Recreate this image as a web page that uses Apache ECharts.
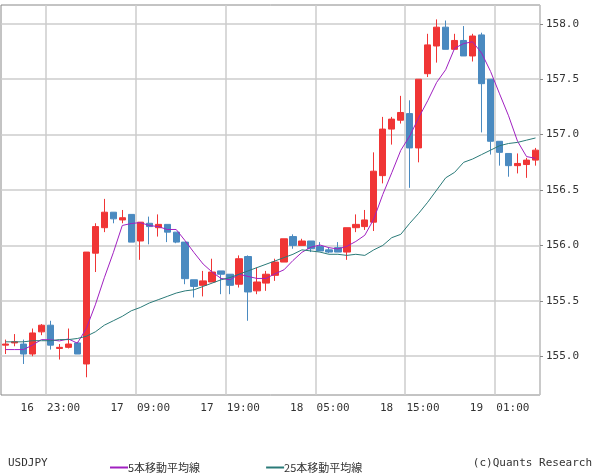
<!DOCTYPE html>
<html><head><meta charset="utf-8">
<script src="https://cdn.jsdelivr.net/npm/echarts@6/dist/echarts.min.js"></script>
<style>html,body{margin:0;padding:0;background:#fff}#c{width:600px;height:475px}</style>
</head><body><div id="c"></div>
<script>
const categories = [
"16 18:00","16 19:00","16 20:00","16 21:00","16 22:00","16 23:00",
"17 00:00","17 01:00","17 02:00","17 03:00","17 04:00","17 05:00","17 06:00","17 07:00","17 08:00","17 09:00","17 10:00","17 11:00","17 12:00","17 13:00","17 14:00","17 15:00","17 16:00","17 17:00","17 18:00","17 19:00","17 20:00","17 21:00","17 22:00","17 23:00",
"18 00:00","18 01:00","18 02:00","18 03:00","18 04:00","18 05:00","18 06:00","18 07:00","18 08:00","18 09:00","18 10:00","18 11:00","18 12:00","18 13:00","18 14:00","18 15:00","18 16:00","18 17:00","18 18:00","18 19:00","18 20:00","18 21:00","18 22:00","18 23:00",
"19 00:00","19 01:00","19 02:00","19 03:00","19 04:00","19 05:00"];
const opens  = [155.10,155.12,155.11,155.02,155.22,155.28,155.07,155.08,155.12,154.93,155.93,156.16,156.30,156.23,156.28,156.04,156.20,156.16,156.19,156.12,156.03,155.69,155.64,155.67,155.77,155.74,155.65,155.90,155.59,155.66,155.73,155.85,156.08,156.00,156.04,155.99,155.96,155.98,155.94,156.16,156.17,156.21,156.63,157.05,157.13,157.19,156.88,157.55,157.80,157.97,157.77,157.85,157.71,157.90,157.50,156.94,156.83,156.72,156.73,156.77];
const closes = [155.11,155.13,155.02,155.21,155.28,155.10,155.08,155.11,155.02,155.94,156.17,156.30,156.24,156.25,156.03,156.21,156.17,156.19,156.12,156.03,155.70,155.63,155.68,155.76,155.74,155.64,155.88,155.58,155.67,155.74,155.85,156.06,156.00,156.04,155.97,155.95,155.94,155.94,156.16,156.19,156.23,156.67,157.05,157.14,157.20,156.88,157.50,157.81,157.97,157.77,157.85,157.71,157.89,157.46,156.94,156.84,156.72,156.74,156.77,156.86];
const highs  = [155.15,155.20,155.15,155.25,155.29,155.32,155.11,155.25,155.13,155.94,156.20,156.42,156.30,156.32,156.28,156.21,156.26,156.28,156.19,156.12,156.03,155.69,155.77,155.88,155.77,155.74,155.91,155.91,155.80,155.77,155.88,156.06,156.10,156.06,156.04,156.03,155.98,156.03,156.16,156.28,156.32,156.84,157.16,157.16,157.35,157.31,157.50,157.91,158.04,158.03,157.91,157.98,157.91,157.92,157.50,156.94,156.83,156.83,156.79,156.88];
const lows   = [155.02,155.09,154.93,155.00,155.19,155.06,154.97,155.07,155.02,154.81,155.76,156.12,156.20,156.20,156.03,155.87,156.01,156.08,156.03,156.02,155.65,155.53,155.54,155.67,155.56,155.56,155.62,155.32,155.56,155.59,155.68,155.85,155.97,156.00,155.94,155.95,155.93,155.94,155.87,156.12,156.14,156.13,156.56,156.91,157.10,156.52,156.75,157.52,157.65,157.77,157.77,157.71,157.66,157.02,156.82,156.72,156.62,156.65,156.61,156.72];
const ma5Head = [155.06,155.06,155.06,155.10];
const ma25 = [155.13,155.13,155.13,155.14,155.14,155.14,155.15,155.15,155.16,155.18,155.22,155.28,155.32,155.36,155.41,155.44,155.48,155.51,155.54,155.57,155.59,155.60,155.63,155.66,155.69,155.71,155.74,155.77,155.80,155.83,155.86,155.89,155.92,155.96,155.95,155.94,155.92,155.92,155.91,155.92,155.91,155.96,156.00,156.07,156.10,156.20,156.29,156.39,156.50,156.61,156.66,156.75,156.78,156.82,156.86,156.90,156.92,156.93,156.95,156.97];
const yTicks = [155.0,155.5,156.0,156.5,157.0,157.5,158.0];
const labelIdx = [5,15,25,35,45,55];

const ma5 = closes.map((c,i)=> i<4 ? ma5Head[i] : +((closes.slice(i-4,i+1).reduce((a,b)=>a+b,0))/5).toFixed(3));
const kdata = opens.map((o,i)=>[o,closes[i],lows[i],highs[i]]);
const F = 'DejaVu Sans Mono';
const chart = echarts.init(document.getElementById('c'));
chart.setOption({
  animation:false,
  grid:{left:1,right:60,top:5,bottom:80,show:true,borderColor:'#888',borderWidth:1},
  xAxis:{type:'category',data:categories,boundaryGap:true,
    axisLine:{show:false},axisTick:{show:false},
    axisLabel:{interval:(i)=>labelIdx.includes(i),color:'#333',fontFamily:F,fontSize:11,margin:8,
      formatter:v=>v.replace(' ','  ')},
    splitLine:{show:true,interval:(i)=>labelIdx.includes(i),lineStyle:{color:'#ccc',width:1.5}}},
  yAxis:{type:'value',position:'right',min:154.65,max:158.17,
    axisLine:{show:false},
    axisTick:{show:true,customValues:yTicks,length:3,lineStyle:{color:'#888'}},
    axisLabel:{customValues:yTicks,color:'#333',fontFamily:F,fontSize:11,margin:6,formatter:v=>v.toFixed(1)},
    splitLine:{show:true,lineStyle:{color:'#ccc',width:1.5}}},
  legend:{left:105,top:457,itemGap:66,itemWidth:18,itemHeight:2,icon:'rect',
    textStyle:{fontFamily:'Noto Sans CJK JP',fontSize:11,color:'#333',padding:[0,0,0,-5]},
    data:['5本移動平均線','25本移動平均線']},
  graphic:[
    {type:'text',left:8,top:458,style:{text:'USDJPY',font:'11px DejaVu Sans Mono',fill:'#333'}},
    {type:'text',right:8,top:458,style:{text:'(c)Quants Research',font:'11px DejaVu Sans Mono',fill:'#333'}}
  ],
  series:[
    {type:'candlestick',data:kdata,barWidth:'76%',
      itemStyle:{color:'#f03535',color0:'#4a8ac0',borderColor:'#f03535',borderColor0:'#4a8ac0',borderWidth:1}},
    {name:'5本移動平均線',type:'line',data:ma5,symbol:'none',lineStyle:{color:'#a020c0',width:1},itemStyle:{color:'#a020c0'}},
    {name:'25本移動平均線',type:'line',data:ma25,symbol:'none',lineStyle:{color:'#2a7a78',width:1},itemStyle:{color:'#2a7a78'}}
  ]
});
</script></body></html>
